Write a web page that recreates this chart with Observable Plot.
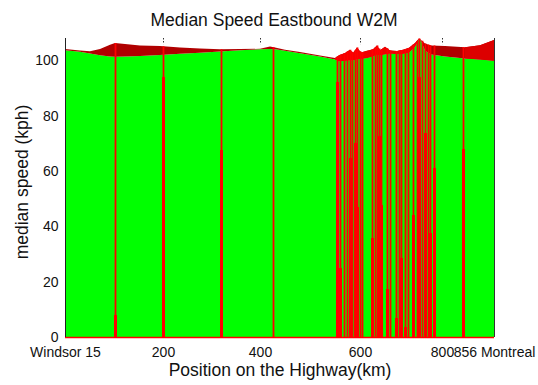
<!DOCTYPE html>
<html>
<head>
<meta charset="utf-8">
<script src="https://cdn.jsdelivr.net/npm/d3@7"></script>
<script src="https://cdn.jsdelivr.net/npm/@observablehq/plot@0.6"></script>
<style>
  body { margin: 0; background: #fff; font-family: "Liberation Sans", Arial, sans-serif; }
  #wrap { position: relative; width: 538px; }
  #title { position: relative; height: 30px; }
  #title span {
    position: absolute; left: 274px; top: 12px; transform: translateX(-50%);
    font-size: 17.5px; line-height: 17.5px; white-space: nowrap; color: #111;
  }
</style>
</head>
<body>
<div id="wrap">
  <div id="title"><span>Median Speed Eastbound W2M</span></div>
  <div id="chart"></div>
</div>
<script>
// Highway segments, numbered west to east (Windsor -> Montreal)
const profileSegment = [0, 15, 25, 35, 45, 50, 60, 75, 95, 115, 135, 155, 175, 195, 205, 210, 220, 235, 255, 270,
  274, 280, 285, 288, 292, 296, 302, 308, 312, 315, 320, 325, 332, 338, 344, 350, 354, 356, 360, 366, 380, 400, 415, 429];
// median speed along the highway (kph)
const medianSpeed = [103.6, 103.0, 102.4, 101.8, 101.3, 101.2, 101.3, 101.5, 101.9, 102.3, 102.7, 103.1, 103.6, 103.9, 104.0, 103.9, 103.4, 102.5, 101.3, 100.2,
  99.6, 99.8, 100.0, 100.0, 100.4, 100.5, 100.8, 101.4, 102.0, 101.8, 102.1, 102.4, 102.2, 102.3, 102.8, 104.8, 107.6, 107.0, 103.5, 102.0, 101.3, 100.6, 100.2, 99.8];
// upper speed envelope (kph)
const upperSpeed = [104.0, 103.5, 103.2, 104.0, 105.6, 106.2, 105.8, 105.3, 105.1, 104.6, 104.2, 103.9, 104.0, 104.1, 104.9, 104.6, 103.8, 102.9, 101.7, 100.8,
  101.8, 102.6, 103.8, 102.6, 104.6, 102.8, 103.4, 103.9, 105.3, 103.6, 104.8, 103.5, 103.3, 103.8, 104.5, 106.2, 107.8, 107.3, 106.0, 105.3, 105.1, 104.7, 105.4, 107.3];

// segments with speed drops, and the low speed reached there (kph)
const dropSegment = [50, 98, 156, 208, 272, 275, 279, 282, 285, 287, 290, 292, 295, 297, 307, 310, 312, 314, 316,
  322, 325, 331, 334, 336, 340, 343, 348, 352, 354, 357, 360, 363, 365, 369, 398];
const dropSpeed = [8, 94, 67.5, null, 92, 25, null, null, 64.6, null, 70, 47, null, null, 35.7, null, null, 72.6, 47.6,
  17.3, null, 6.9, null, 28.5, 3.6, null, 44, null, 94, null, 73.6, null, 37.5, 61, 68];

// stretches where the upper envelope is drawn brighter
const centralStretch = [270, 356];
const easternStretch = [400, 429];

// axis ticks
const tickSegment = [0, 98, 195, 295, 377, 429];
const tickLabel = ["Windsor 15", "200", "400", "600", "800", "856 Montreal"];
const speedTicks = [0, 20, 40, 60, 80, 100];

const profile = profileSegment.map((s, i) => ({segment: s, median: medianSpeed[i], upper: upperSpeed[i]}));
const upperAt = d3.scaleLinear(profileSegment, upperSpeed);
const drops = dropSegment.map((s, i) => ({segment: s, speed: dropSpeed[i], top: upperAt(s)}));
const labelBySegment = new Map(tickSegment.map((s, i) => [s, tickLabel[i]]));
const segMax = d3.max(profileSegment);
const speedMax = 108;

const inStretch = r => d => d.segment >= r[0] && d.segment <= r[1];

const chart = Plot.plot({
  width: 538,
  height: 355,
  marginTop: 8,
  marginBottom: 48,
  marginLeft: 65,
  marginRight: 44,
  style: {fontFamily: "Liberation Sans, Arial, sans-serif", fontSize: "14px", color: "#111", background: "#fff"},
  x: {domain: [0, segMax]},
  y: {domain: [0, speedMax]},
  marks: [
    Plot.areaY(profile, {x: "segment", y1: 0, y2: "median", fill: "#00ff00"}),
    Plot.areaY(profile, {x: "segment", y1: "median", y2: "upper", fill: "#b00000"}),
    Plot.areaY(profile, {filter: inStretch(centralStretch), x: "segment", y1: "median", y2: "upper", fill: "#f00000"}),
    Plot.areaY(profile, {filter: inStretch(easternStretch), x: "segment", y1: "median", y2: "upper", fill: "#dc0000"}),
    Plot.ruleX(drops, {x: "segment", y1: 0, y2: "top", stroke: "#ff0000", strokeWidth: 1.8}),
    Plot.ruleX(drops.filter(d => d.speed != null), {x: "segment", y1: 0, y2: "speed", stroke: "#ff0000", strokeWidth: 2.2, shapeRendering: "crispEdges"}),
    Plot.ruleY([0], {stroke: "#ff0000", strokeWidth: 1.5}),
    Plot.ruleX([0], {y1: 0, y2: speedMax, stroke: "#222"}),
    Plot.ruleX([segMax], {y1: 0, y2: speedMax, stroke: "#333"}),
    Plot.ruleX(tickSegment.slice(1), {y1: speedMax, y2: speedMax - 2.2, stroke: "#333", strokeDasharray: "1.5,1.5"}),
    Plot.axisX({ticks: tickSegment, tickFormat: d => labelBySegment.get(d), tickSize: 0, tickPadding: 10, fontSize: 14, label: null}),
    Plot.axisY({ticks: speedTicks, tickSize: 0, tickPadding: 7, fontSize: 14, label: null}),
    Plot.text(["Position on the Highway(km)"], {frameAnchor: "bottom", dy: 26, lineAnchor: "top", fontSize: 17.5, fill: "#111"}),
    Plot.text(["median speed (kph)"], {frameAnchor: "left", textAnchor: "middle", rotate: -90, dx: -50, dy: -6, lineAnchor: "top", fontSize: 17.5, fill: "#111"})
  ]
});
document.getElementById("chart").appendChild(chart);
</script>
</body>
</html>
